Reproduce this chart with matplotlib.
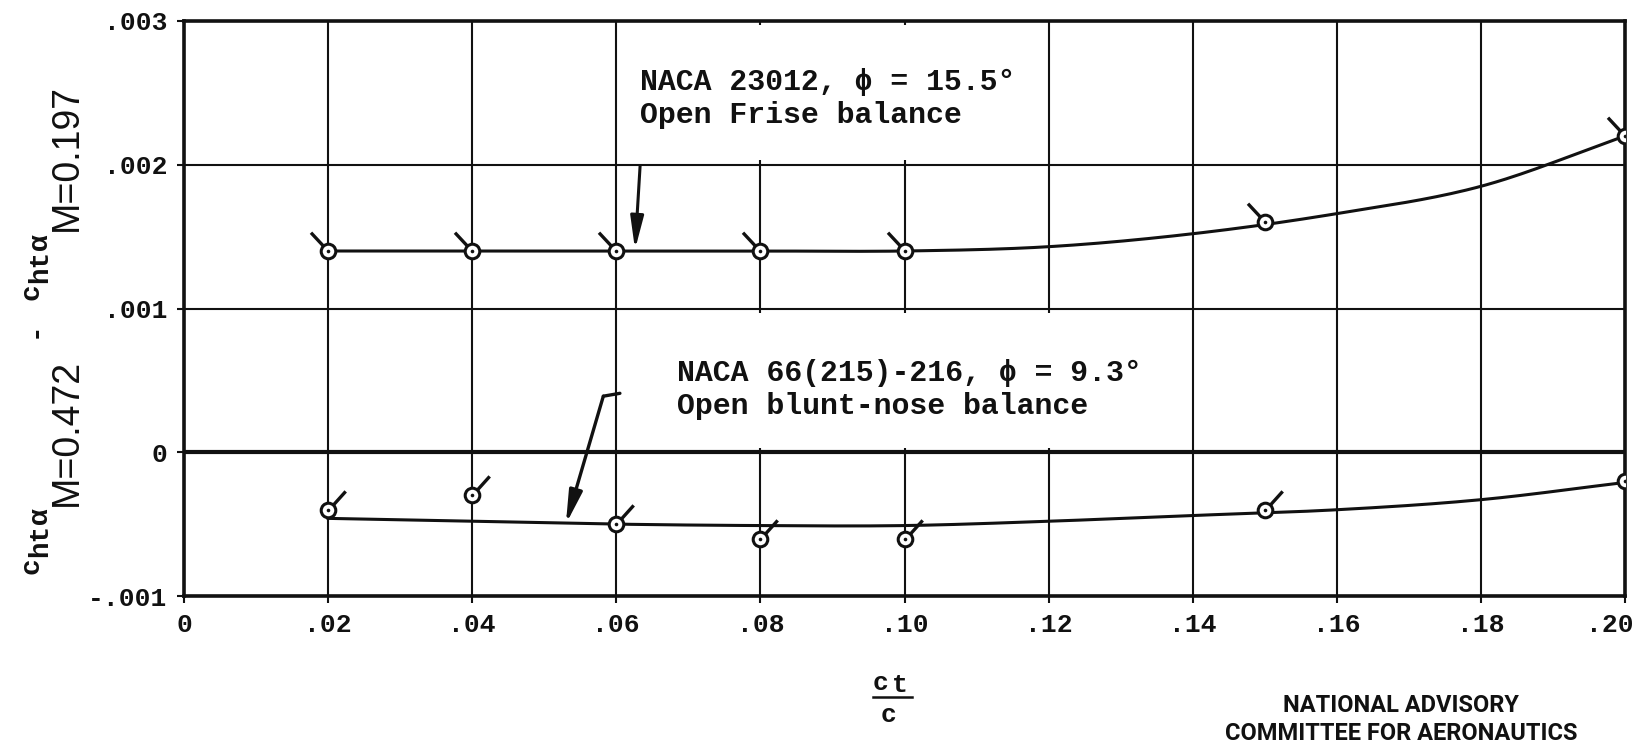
import numpy as np
import matplotlib
matplotlib.use("Agg")
import matplotlib.pyplot as plt
from matplotlib.path import Path
from matplotlib.patches import Rectangle, FancyArrowPatch
from matplotlib.lines import Line2D
from matplotlib.transforms import offset_copy

# ---- data -----------------------------------------------------------------
ratio = [0.02, 0.04, 0.06, 0.08, 0.10, 0.15, 0.20]           # c_t / c
frise_points = [0.0014, 0.0014, 0.0014, 0.0014, 0.0014, 0.0016, 0.0022]
blunt_points = [-0.0004, -0.0003, -0.0005, -0.0006, -0.0006, -0.0004, -0.0002]

# faired curves (read at even stations)
fair_x = [0.02, 0.04, 0.06, 0.08, 0.10, 0.12, 0.14, 0.16, 0.18, 0.20]
frise_fair = [0.0014, 0.0014, 0.0014, 0.0014, 0.0014,
              0.00143, 0.00152, 0.00166, 0.00185, 0.0022]
blunt_fair = [-0.00046, -0.00048, -0.00050, -0.00051, -0.00051,
              -0.00048, -0.00044, -0.00040, -0.00033, -0.00021]

x_ticks = [0, 0.02, 0.04, 0.06, 0.08, 0.10, 0.12, 0.14, 0.16, 0.18, 0.20]
x_tick_labels = ["0", ".02", ".04", ".06", ".08", ".10", ".12", ".14", ".16", ".18", ".20"]
y_ticks = [-0.001, 0, 0.001, 0.002, 0.003]
y_tick_labels = ["-.001", "0", ".001", ".002", ".003"]

frise_label = ["NACA 23012, \u03d5 = 15.5\u00b0", "Open Frise balance"]
blunt_label = ["NACA 66(215)-216, \u03d5 = 9.3\u00b0", "Open blunt-nose balance"]

# ---- helpers --------------------------------------------------------------
W, H = 1639, 754
MONO = ["Liberation Mono", "DejaVu Sans Mono"]
INK = "#111111"


def catmull_rom(xs, ys, n=30):
    """Smooth curve through evenly spaced stations."""
    p = np.column_stack([xs, ys]).astype(float)
    p = np.vstack([2 * p[0] - p[1], p, 2 * p[-1] - p[-2]])
    out = []
    t = np.linspace(0, 1, n)[:, None]
    h00 = 2 * t**3 - 3 * t**2 + 1
    h10 = t**3 - 2 * t**2 + t
    h01 = -2 * t**3 + 3 * t**2
    h11 = t**3 - t**2
    for i in range(1, len(p) - 2):
        m0 = (p[i + 1] - p[i - 1]) / 2
        m1 = (p[i + 2] - p[i]) / 2
        seg = h00 * p[i] + h10 * m0 + h01 * p[i + 1] + h11 * m1
        out.append(seg if i == 1 else seg[1:])
    out = np.vstack(out)
    return out[:, 0], out[:, 1]


def flag_marker(angle_deg, r_in, r_out):
    """Line-segment marker sticking out of a circle; radii in points."""
    th = np.radians(angle_deg)
    u = np.array([np.cos(th), np.sin(th)])
    path = Path([u * r_in / r_out, u], [Path.MOVETO, Path.LINETO])
    ms = 2 * r_out * np.max(np.abs(u))
    return path, ms


def draw_points(ax, xs, ys, flag_angle):
    path, ms = flag_marker(flag_angle, 4.0, 18.5)
    ax.plot(xs, ys, ls="none", marker=path, markersize=ms, markerfacecolor="none",
            markeredgecolor=INK, markeredgewidth=2.4, zorder=4)
    ax.plot(xs, ys, ls="none", marker="o", markersize=10.5, markerfacecolor="white",
            markeredgecolor=INK, markeredgewidth=2.2, zorder=5)
    ax.plot(xs, ys, ls="none", marker="o", markersize=2.6, markerfacecolor=INK,
            markeredgecolor=INK, markeredgewidth=0, zorder=6)


# ---- figure ---------------------------------------------------------------
fig = plt.figure(figsize=(W / 100, H / 100), dpi=100)
fig.patch.set_facecolor("white")
ax = fig.add_axes([184 / W, 1 - 596 / H, (1625 - 184) / W, (596 - 21) / H])

ax.set_xlim(0, 0.20)
ax.set_ylim(-0.001, 0.003)
ax.set_xticks(x_ticks)
ax.set_xticklabels(x_tick_labels, fontfamily=MONO, fontweight="bold", fontsize=19)
ax.set_yticks(y_ticks)
ax.set_yticklabels(y_tick_labels, fontfamily=MONO, fontweight="bold", fontsize=19)
ax.tick_params(length=5, width=1.5, direction="out", pad=7, colors=INK)

ax.set_axisbelow(True)
ax.grid(True, color=INK, lw=1.5)
for s in ax.spines.values():
    s.set_linewidth(2.6)
    s.set_color(INK)
ax.axhline(0, color=INK, lw=3.0, zorder=1.5)

# keep the last x label inside the sheet
last = ax.get_xticklabels()[-1]
last.set_transform(offset_copy(last.get_transform(), fig=fig, x=-15, y=0, units="dots"))

# clear panels behind the captions
ax.add_patch(Rectangle((0.0606, 0.00203), 0.0588, 0.00094, fc="white", ec="none", zorder=1))
ax.add_patch(Rectangle((0.0606, 0.00003), 0.0705, 0.00094, fc="white", ec="none", zorder=1))

# faired curves
fx, fy = catmull_rom(fair_x, frise_fair)
ax.plot(fx, fy, color=INK, lw=2.2, zorder=3)
bx, by = catmull_rom(fair_x, blunt_fair)
ax.plot(bx, by, color=INK, lw=2.2, zorder=3)

draw_points(ax, ratio, frise_points, 133)
draw_points(ax, ratio, blunt_points, 48)

# captions
txt = dict(fontfamily=MONO, fontweight="bold", fontsize=21.5, color=INK, zorder=7)
ax.text(0.0633, 0.00252, frise_label[0], va="baseline", ha="left", **txt)
ax.text(0.0633, 0.00229, frise_label[1], va="baseline", ha="left", **txt)
ax.text(0.0684, 0.000497, blunt_label[0], va="baseline", ha="left", **txt)
ax.text(0.0684, 0.000266, blunt_label[1], va="baseline", ha="left", **txt)

# leader arrows
ax.add_patch(FancyArrowPatch((0.0633, 0.00199), (0.0626, 0.00141),
                             arrowstyle="-|>,head_length=1.1,head_width=0.22",
                             mutation_scale=18, lw=2.2, color=INK, zorder=7,
                             shrinkA=0, shrinkB=0))
ax.plot([0.0605, 0.0582], [0.00041, 0.00039], color=INK, lw=2.4, zorder=7,
        solid_capstyle="round")
ax.add_patch(FancyArrowPatch((0.0582, 0.00039), (0.0530, -0.00050),
                             arrowstyle="-|>,head_length=1.1,head_width=0.22",
                             mutation_scale=18, lw=2.4, color=INK, zorder=7,
                             shrinkA=0, shrinkB=0))

# x-axis label: c_t / c
fig.text(881 / W, 1 - 690 / H, "c", ha="center", va="baseline",
         fontfamily=MONO, fontweight="bold", fontsize=19, color=INK)
fig.text(900 / W, 1 - 692 / H, "t", ha="center", va="baseline",
         fontfamily=MONO, fontweight="bold", fontsize=19, color=INK)
fig.add_artist(Line2D([873 / W, 912 / W], [1 - 697 / H] * 2,
                      transform=fig.transFigure, color=INK, lw=1.8))
fig.text(889 / W, 1 - 722 / H, "c", ha="center", va="baseline",
         fontfamily=MONO, fontweight="bold", fontsize=19, color=INK)

# y-axis label, built piece by piece along the rotated baseline
renderer = fig.canvas.get_renderer()
mono = dict(fontfamily=MONO, fontweight="bold", fontsize=20)
sans = dict(fontfamily=["Liberation Sans", "DejaVu Sans"], fontsize=27)
label_pieces = [
    ("c", mono, 38, 0),
    ("ht", mono, 47, 0),
    ("\u03b1", mono, 47, 0),
    ("M=0.472", sans, 77, 2),
    ("-", mono, 42, 20),
    ("c", mono, 38, 22),
    ("ht", mono, 47, 0),
    ("\u03b1", mono, 47, 0),
    ("M=0.197", sans, 77, 2),
]
y_px = H - 574
for text, props, base_x, gap in label_pieces:
    y_px += gap
    t = fig.text(base_x / W, y_px / H, text, rotation=90, rotation_mode="anchor",
                 ha="left", va="baseline", color=INK, **props)
    y_px += t.get_window_extent(renderer).height

# agency credit
credit = dict(fontfamily=["Roboto", "DejaVu Sans"], fontweight="bold",
              fontsize=17, color=INK, ha="center", va="center")
fig.text(1401 / W, 1 - 705 / H, "NATIONAL ADVISORY", **credit)
fig.text(1401 / W, 1 - 734 / H, "COMMITTEE FOR AERONAUTICS", **credit)

fig.savefig("out.png", dpi=100, facecolor="white")
